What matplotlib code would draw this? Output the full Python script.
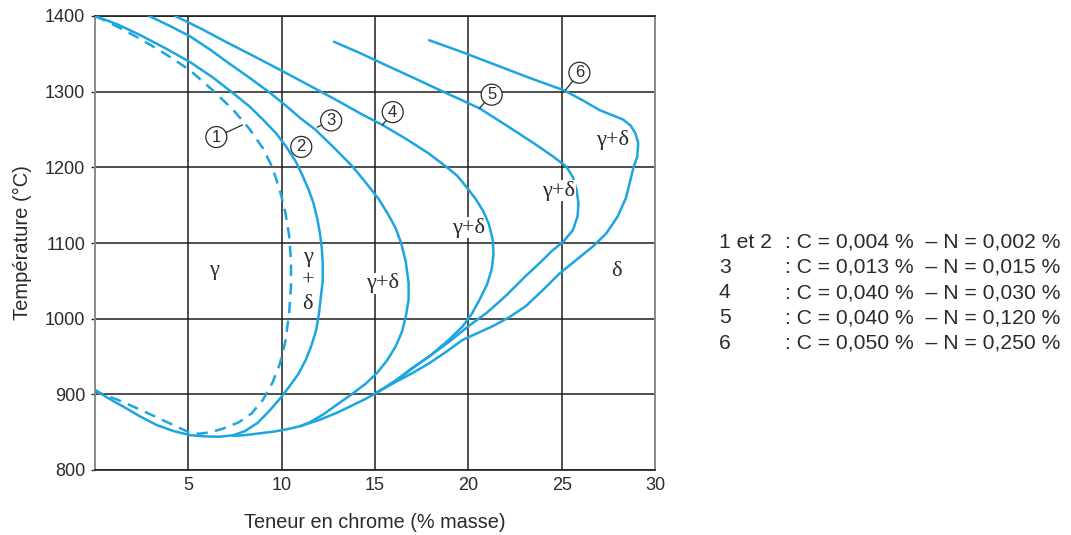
import matplotlib
matplotlib.use("Agg")
import matplotlib.pyplot as plt

# Fe-Cr gamma loop: temperature vs chromium content for several C/N levels
# (curve points read off as (Cr %, T degC))

# shared lower branch of curves 3-6, from the pinch at 15 % to where it meets curve 2
bottom_x = [15.0, 14.5, 14.0, 13.5, 13.0, 12.5, 12.0, 11.5, 11.0, 10.5, 10.0, 9.5,
            9.0, 8.5, 8.0, 7.4]
bottom_y = [901, 894, 888, 882, 876, 871, 866, 862, 858, 855, 852.5, 850.5,
            849, 847.5, 846, 845]

c1_x = [0.0, 0.7, 1.5, 2.4, 3.3, 4.2, 5.1, 6.3, 7.4, 8.3, 9.0, 9.5, 9.9, 10.2, 10.4,
        10.5, 10.5, 10.4, 10.2, 9.9, 9.5, 9.0, 8.4, 7.7, 6.9, 6.2, 5.6, 5.1, 3.8,
        2.4, 1.2, 0.0]
c1_y = [1400, 1392, 1382, 1370, 1357, 1343, 1328, 1302, 1276, 1250, 1225, 1200, 1170,
        1140, 1110, 1075, 1045, 1007, 970, 940, 915, 893, 875, 863, 855, 850, 848,
        849, 864, 880, 893, 904]

c2_x = [0.0, 1.2, 2.4, 3.8, 5.1, 6.3, 7.4, 8.3, 9.0, 9.7, 10.25, 10.75, 11.1, 11.45,
        11.7, 11.9, 12.05, 12.15, 12.2, 12.2, 12.1, 12.0, 11.85, 11.6, 11.3, 10.9,
        10.4, 9.9, 9.3, 8.7, 8.0, 7.4, 6.7, 6.0, 5.1, 4.2, 3.3, 2.4, 1.5, 0.7, 0.0]
c2_y = [1400, 1389, 1375, 1357, 1339, 1319, 1298, 1280, 1263, 1245, 1227, 1208, 1190,
        1170, 1153, 1133, 1113, 1093, 1073, 1050, 1029, 1007, 985, 965, 946, 927,
        910, 894, 877, 862, 851, 846, 844, 844.3, 846, 851.5, 859.5, 871, 884, 895, 906]

c3_x = [2.9, 4.0, 5.1, 6.2, 7.2, 8.3, 9.4, 10.3, 11.0, 11.8, 12.8, 13.8, 14.5, 15.2,
        15.7, 16.1, 16.4, 16.65, 16.8, 16.8, 16.65, 16.45, 16.1, 15.65, 15.1, 14.5,
        13.8, 13.0, 12.2, 11.5, 11.0]
c3_y = [1400, 1387, 1373, 1355, 1337, 1318, 1298, 1280, 1265, 1250, 1226, 1201, 1180,
        1158, 1138, 1120, 1100, 1075, 1047, 1025, 1003, 983, 963, 945, 928, 914,
        901, 887, 873, 863, 858]

c4_x = [4.3, 5.7, 7.0, 8.5, 9.9, 11.5, 13.0, 14.3, 15.4, 16.7, 17.9, 18.8, 19.4,
        19.9, 20.4, 20.8, 21.1, 21.3, 21.35, 21.25, 21.0, 20.6, 20.2, 19.7, 19.0,
        18.0, 17.1, 16.3, 15.6, 15.0]
c4_y = [1400, 1383, 1366, 1347, 1329, 1308, 1288, 1270, 1256, 1237, 1218, 1201, 1189,
        1174, 1158, 1142, 1125, 1105, 1085, 1065, 1045, 1025, 1007, 990, 973,
        952, 936, 921, 910, 901]

c5_x = [12.8, 14.2, 15.5, 17.0, 18.65, 20.6, 22.0, 23.5, 24.5, 25.25, 25.6, 25.8,
        25.9, 25.85, 25.6, 25.1, 24.5, 23.8, 23.1, 22.0, 21.0, 20.0, 19.0, 17.9,
        17.0, 16.2, 15.6, 15.0]
c5_y = [1366, 1351, 1336, 1319, 1300, 1278, 1256, 1232, 1215, 1201, 1187, 1170,
        1152, 1135, 1117, 1102, 1090, 1073, 1057, 1030, 1008, 990, 970, 950,
        935, 920, 910, 901]

c6_x = [17.9, 19.7, 21.5, 23.3, 25.1, 26.1, 27.0, 27.7, 28.3, 28.7, 28.95, 29.1,
        29.05, 28.85, 28.65, 28.45, 28.0, 27.4, 26.7, 26.0, 24.9, 24.0, 23.1, 22.2,
        21.3, 20.5, 19.7, 18.8, 17.9, 17.0, 16.15, 15.5, 15.0]
c6_y = [1368, 1352, 1335, 1318, 1302, 1289, 1276, 1269, 1263, 1255, 1245, 1232,
        1214, 1200, 1180, 1160, 1135, 1113, 1096, 1082, 1060, 1038, 1017, 1002,
        990, 981, 972, 956, 941, 928, 917, 908, 901]

# curve tags: number, point on the curve, tag position
tag_nums = ["1", "2", "3", "4", "5", "6"]
tag_on = [(7.9, 1256), (11.0, 1227), (11.9, 1253), (15.4, 1256), (20.6, 1278), (25.2, 1302)]
tag_at = [(6.5, 1240), (11.05, 1227), (12.65, 1262), (15.95, 1273), (21.25, 1296), (25.95, 1325)]

# phase fields
phase_txt = ["γ", "γ\n+\nδ", "γ+δ", "γ+δ", "γ+δ", "γ+δ", "δ"]
phase_pos = [(6.4, 1064), (11.4, 1050), (15.4, 1047), (20.0, 1120), (24.85, 1169),
             (27.7, 1236), (27.95, 1062)]

legend_num = ["1 et 2", "3", "4", "5", "6"]
legend_c = ["0,004", "0,013", "0,040", "0,040", "0,050"]
legend_n = ["0,002", "0,015", "0,030", "0,120", "0,250"]

xticks = [5, 10, 15, 20, 25, 30]
yticks = [800, 900, 1000, 1100, 1200, 1300, 1400]

BLUE = "#1ba6e0"
INK = "#2b2b2b"

plt.rcParams["font.family"] = ["Liberation Sans", "DejaVu Sans"]

fig = plt.figure(figsize=(10.71, 5.35), dpi=100)
ax = fig.add_axes([95 / 1071, 1 - 470 / 535, 560 / 1071, 454 / 535])

ax.set_xlim(0, 30)
ax.set_ylim(800, 1400)
ax.set_xticks(xticks)
ax.set_yticks(yticks)
ax.grid(True, color="#1e1e1e", lw=1.1)
ax.set_axisbelow(True)
ax.tick_params(axis="x", length=0, pad=5, labelsize=13, colors=INK)
ax.tick_params(axis="y", length=3, width=1, pad=4, labelsize=13, colors=INK)
for side in ("left", "right"):
    ax.spines[side].set_color("#8a8a8a")
    ax.spines[side].set_linewidth(1.4)
for side in ("top", "bottom"):
    ax.spines[side].set_color("#1e1e1e")
    ax.spines[side].set_linewidth(1.2)

style = dict(color=BLUE, lw=1.8, zorder=3, solid_joinstyle="round",
             solid_capstyle="round")
ax.plot(c1_x, c1_y, color=BLUE, lw=1.8, zorder=3, ls=(0, (4.5, 3)))
ax.plot(c2_x, c2_y, **style)
ax.plot(bottom_x, bottom_y, **style)
for cx, cy in [(c3_x, c3_y), (c4_x, c4_y), (c5_x, c5_y), (c6_x, c6_y)]:
    ax.plot(cx, cy, **style)

for num, p_on, p_at in zip(tag_nums, tag_on, tag_at):
    ax.annotate(num, xy=p_on, xytext=p_at, ha="center", va="center",
                fontsize=12, color=INK, zorder=5,
                bbox=dict(boxstyle="circle,pad=0.18", fc="white", ec=INK, lw=0.9),
                arrowprops=dict(arrowstyle="-", color=INK, lw=0.9,
                                shrinkA=0, shrinkB=0))

for txt, (px, py) in zip(phase_txt, phase_pos):
    ax.text(px, py, txt, ha="center", va="center", fontsize=16, color=INK,
            family=["Liberation Serif", "DejaVu Serif"], linespacing=1.3,
            bbox=dict(fc="white", ec="none", pad=0.3), zorder=4)

ax.set_xlabel("Teneur en chrome (% masse)", fontsize=14.3, color=INK, labelpad=14)
ax.set_ylabel("Température (°C)", fontsize=14.5, color=INK, labelpad=9)

# composition key on the right
for i, (n, c, nn) in enumerate(zip(legend_num, legend_c, legend_n)):
    ty = 1 - (242 + i * 25.3) / 535
    fig.text(719 / 1071, ty, n, fontsize=15.2, color=INK, va="center")
    fig.text(785 / 1071, ty, f": C = {c} %  – N = {nn} %", fontsize=15.2,
             color=INK, va="center")

fig.savefig("out.png", dpi=100)
